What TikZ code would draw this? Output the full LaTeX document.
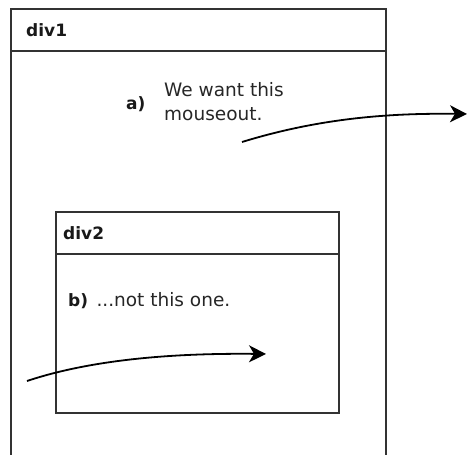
\documentclass[tikz,border=0pt]{standalone}
\usepackage{fontspec}
\setmainfont{DejaVu Sans}
\usetikzlibrary{arrows.meta,positioning}

\tikzset{
  boxline/.style={line width=1.2pt,draw=black!80},
  tag/.style={font=\fontsize{17}{20}\selectfont\bfseries,text=black!90,inner sep=0pt,anchor=base west},
  note/.style={font=\fontsize{18.5}{24}\selectfont,text=black!85,inner sep=0pt,anchor=base west},
  move/.style={line width=1.8pt,-{Stealth[length=17pt,width=17pt,inset=5pt]}}
}

\begin{document}
\begin{tikzpicture}[x=1pt,y=1pt]
        \useasboundingbox (0,0) rectangle (467,-455);
        % outer div, open at the bottom
        \draw[boxline] (11,-455) -- (11,-9) -- (386,-9) -- (386,-455);
        \draw[boxline] (11,-51) -- (386,-51);
        \node[tag] (div1) at (26,-37) {div1};
        % inner div
        \draw[boxline] (56,-212) rectangle (339,-413);
        \draw[boxline] (56,-254) -- (339,-254);
        \node[tag] (div2) at (63,-239) {div2};
        % labels
        \node[tag] (a) at (126,-110) {a)};
        \node[note] (want) at (164,-96) {We want this};
        \node[note] (out) at ([yshift=-25pt]want.base west) {mouseout.};
        \node[tag] (b) at (68,-306) {b)};
        \node[note, right=8pt of b.base east, anchor=base west] (notthis) {...not this one.};
        % mouse paths
        \coordinate (a1) at (242,-142);
        \coordinate (a2) at (467,-114);
        \coordinate (b1) at (27,-381);
        \coordinate (b2) at (266,-354);
        \draw[move] (a1) .. controls (320,-118) and (390,-113) .. (a2);
        \draw[move] (b1) .. controls (90,-360) and (170,-353) .. (b2);
      \end{tikzpicture}
\end{document}
